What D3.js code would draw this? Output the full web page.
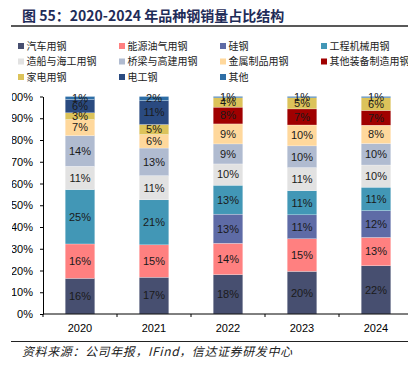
<!DOCTYPE html>
<html>
<head>
<meta charset="utf-8">
<style>
  body { margin: 0; background: #fff; }
  svg { display: block; font-family: "Liberation Sans", Arial, "Noto Sans CJK SC", sans-serif; }
</style>
</head>
<body>
<svg id="chart"></svg>
<script src="https://d3js.org/d3.v7.min.js"></script>
<script>
  const width = 408;
  const height = 365;

  const years = ['2020', '2021', '2022', '2023', '2024'];
  const seriesNames = ['汽车用钢', '能源油气用钢', '硅钢', '工程机械用钢', '造船与海工用钢', '桥梁与高建用钢',
                       '金属制品用钢', '其他装备制造用钢', '家电用钢', '电工钢', '其他'];
  const seriesColors = ['#474f70', '#ff8080', '#5e6ba6', '#4297b6', '#e2e2e2', '#b0bbd0',
                        '#ffd89c', '#a00000', '#dcc35a', '#2a4a80', '#2e6ea6'];
  // share (%) per series, one value per year
  const autoSteel     = [16.4, 16.9, 18.1, 19.6, 22.2];
  const energySteel   = [15.8, 14.9, 14.4, 15.0, 13.0];
  const siliconSteel  = [0,    0,    13.4, 11.0, 12.3];
  const machinery     = [25.0, 20.7, 13.3, 11.1, 10.8];
  const shipbuilding  = [10.7, 11.1, 9.8,  10.6, 10.2];
  const bridgeBuild   = [14.1, 12.7, 9.2,  10.0, 9.9];
  const metalProducts = [7.4,  6.2,  9.2,  9.6,  8.4];
  const otherEquip    = [0,    0,    7.7,  7.4,  6.8];
  const appliances    = [3.1,  4.6,  4.3,  5.1,  5.8];
  const electrical    = [6.1,  11.0, 0,    0,    0];
  const others        = [1.4,  1.9,  0.6,  0.6,  0.6];
  const seriesValues = [autoSteel, energySteel, siliconSteel, machinery, shipbuilding, bridgeBuild,
                        metalProducts, otherEquip, appliances, electrical, others];
  const yTicks = [0, 10, 20, 30, 40, 50, 60, 70, 80, 90, 100];

  const svg = d3.select('#chart').attr('width', width).attr('height', height);

  // title
  svg.append('text')
    .attr('x', 22).attr('y', 21)
    .attr('font-size', 14).attr('font-weight', 'bold')
    .attr('fill', '#1f2c58')
    .attr('font-family', '"Noto Sans CJK SC", sans-serif')
    .text('图 55：2020-2024 年品种钢销量占比结构');
  svg.append('line')
    .attr('x1', 11).attr('x2', width).attr('y1', 26).attr('y2', 26)
    .attr('stroke', '#222').attr('stroke-width', 1.5);

  // legend
  const legend = svg.append('g');
  seriesNames.forEach((name, i) => {
    const col = i % 4, row = Math.floor(i / 4);
    const g = legend.append('g').attr('transform', `translate(${18 + col * 101},${46 + row * 15.5})`);
    g.append('rect').attr('x', 0).attr('y', -3).attr('width', 6).attr('height', 6)
      .attr('fill', seriesColors[i]);
    g.append('text').attr('x', 8.5).attr('y', 0).attr('dy', '0.35em')
      .attr('font-size', 10).attr('fill', '#222')
      .attr('font-family', '"Noto Sans CJK SC", sans-serif')
      .text(name);
  });

  // plot
  const margin = { left: 43, top: 96.5, bottom: 314 };
  const x = d3.scaleBand().domain(years).range([margin.left, margin.left + 74 * years.length])
    .paddingInner(0.6).paddingOuter(0.3);
  const y = d3.scaleLinear().domain([0, 100]).range([margin.bottom, margin.top]);

  const table = years.map((yr, j) => {
    const row = { year: yr };
    seriesNames.forEach((s, i) => row[s] = seriesValues[i][j]);
    return row;
  });
  const stacked = d3.stack().keys(seriesNames)(table);

  const layers = svg.append('g').selectAll('g')
    .data(stacked).join('g')
    .attr('fill', (d, i) => seriesColors[i]);
  layers.selectAll('rect')
    .data(d => d.filter(p => p[1] - p[0] > 0))
    .join('rect')
    .attr('x', d => x(d.data.year))
    .attr('width', x.bandwidth())
    .attr('y', d => y(d[1]))
    .attr('height', d => y(d[0]) - y(d[1]))
    .attr('stroke', '#fff').attr('stroke-width', 0.4).attr('stroke-opacity', 0.6);

  const labels = svg.append('g');
  stacked.forEach(layer => {
    layer.forEach(p => {
      const v = p[1] - p[0];
      if (v <= 0) return;
      labels.append('text')
        .attr('x', x(p.data.year) + x.bandwidth() / 2)
        .attr('y', y((p[0] + p[1]) / 2))
        .attr('dy', '0.35em')
        .attr('text-anchor', 'middle')
        .attr('font-size', 11)
        .attr('fill', '#1a1a1a')
        .text(Math.round(v) + '%');
    });
  });

  // y axis; the "1" of "100%" is cut off at the left edge as in the source image
  svg.append('clipPath').attr('id', 'yclip')
    .append('rect').attr('x', 12 - margin.left).attr('y', 0).attr('width', 60).attr('height', height);
  const yAxis = svg.append('g')
    .attr('transform', `translate(${margin.left},0)`)
    .attr('clip-path', 'url(#yclip)')
    .call(d3.axisLeft(y).tickValues(yTicks).tickFormat(d => d + '%').tickSize(3).tickSizeOuter(0).tickPadding(7));
  yAxis.select('.domain').attr('stroke', '#000');
  yAxis.selectAll('.tick line').attr('stroke', '#000');
  yAxis.selectAll('text').attr('font-size', 11).attr('fill', '#000')
    .attr('font-family', '"Liberation Sans", Arial, sans-serif');

  // x axis: ticks at band edges
  const xAxis = svg.append('g').attr('transform', `translate(0,${margin.bottom})`);
  xAxis.append('line').attr('x1', margin.left).attr('x2', width).attr('stroke', '#000');
  d3.range(years.length + 1).forEach(i => {
    const xe = margin.left + i * x.step();
    xAxis.append('line').attr('x1', xe).attr('x2', xe).attr('y1', 0).attr('y2', 3).attr('stroke', '#000');
  });
  xAxis.selectAll('text.yr').data(years).join('text')
    .attr('class', 'yr')
    .attr('x', d => x(d) + x.bandwidth() / 2)
    .attr('y', 14).attr('dy', '0.35em')
    .attr('text-anchor', 'middle').attr('font-size', 11).attr('fill', '#000')
    .text(d => d);

  // source
  svg.append('line')
    .attr('x1', 11).attr('x2', width).attr('y1', 341.5).attr('y2', 341.5)
    .attr('stroke', '#222').attr('stroke-width', 1.2);
  svg.append('text')
    .attr('x', 22).attr('y', 351.5).attr('dy', '0.35em')
    .attr('font-size', 12).attr('letter-spacing', 0.6).attr('font-style', 'italic').attr('fill', '#222')
    .attr('font-family', '"Noto Sans CJK SC", sans-serif')
    .text('资料来源：公司年报，IFind，信达证券研发中心');
</script>
</body>
</html>
